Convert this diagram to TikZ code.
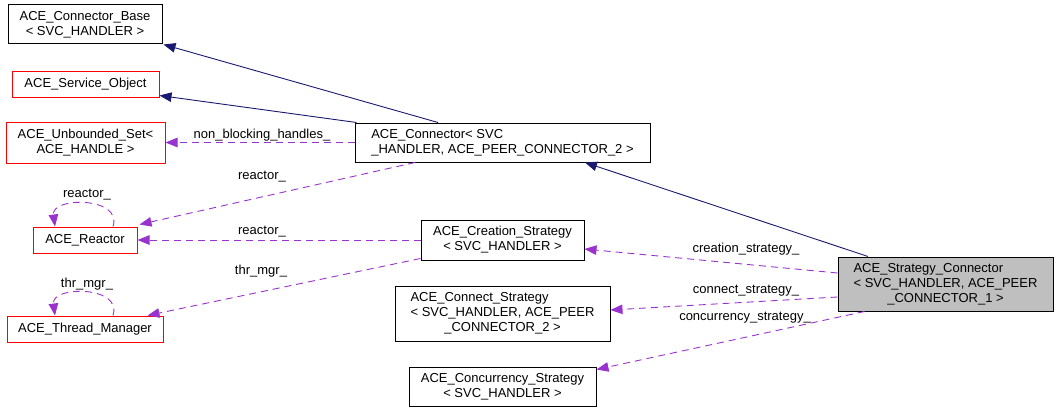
\documentclass[tikz,border=0pt]{standalone}
\usepackage{fontspec}
\setmainfont{Liberation Sans}
\usetikzlibrary{arrows.meta}
\definecolor{edgeblue}{HTML}{191970}
\definecolor{edgepurple}{HTML}{9A32CD}
\definecolor{boxgray}{HTML}{BFBFBF}
\begin{document}
\begin{tikzpicture}[x=1pt,y=-1pt,
  font=\fontsize{13}{15}\selectfont,
  cls/.style={draw=black,line width=1pt,inner sep=0pt,align=center,fill=white},
  redcls/.style={cls,draw=red},
  maincls/.style={cls,fill=boxgray},
  inherit/.style={draw=edgeblue,line width=0.9pt,-{Triangle[length=12pt,width=9.5pt]}},
  usage/.style={draw=edgepurple,line width=0.9pt,dash pattern=on 7pt off 5pt,-{Triangle[length=12pt,width=9.5pt]}},
  lbl/.style={inner sep=0pt,font=\fontsize{13}{15}\selectfont}]
\useasboundingbox (0,0) rectangle (1059,412);
% nodes
\node[cls,minimum width=154pt,minimum height=39pt] (cbase) at (85,24.5) {ACE\_Connector\_Base\\ < SVC\_HANDLER >};
\node[redcls,minimum width=147pt,minimum height=26pt] (svc) at (85.5,84) {ACE\_Service\_Object};
\node[redcls,minimum width=159pt,minimum height=41pt] (uset) at (85.5,142.5) {ACE\_Unbounded\_Set<\\ ACE\_HANDLE >};
\node[cls,minimum width=295pt,minimum height=39pt,align=left] (conn) at (502.5,142.5) {ACE\_Connector< SVC\\ \_HANDLER, ACE\_PEER\_CONNECTOR\_2 >};
\node[redcls,minimum width=104pt,minimum height=26pt] (reac) at (85,240) {ACE\_Reactor};
\node[redcls,minimum width=156pt,minimum height=26pt] (thr) at (85,329) {ACE\_Thread\_Manager};
\node[cls,minimum width=163pt,minimum height=40pt] (creat) at (502.5,240) {ACE\_Creation\_Strategy\\ < SVC\_HANDLER >};
\node[cls,minimum width=215pt,minimum height=55pt] (cstrat) at (502.5,313.5) {\begin{tabular}{@{}l@{}}ACE\_Connect\_Strategy\\ < SVC\_HANDLER, ACE\_PEER\\ \multicolumn{1}{@{}c@{}}{\_CONNECTOR\_2 >}\end{tabular}};
\node[cls,minimum width=187pt,minimum height=39pt] (conc) at (502.5,386.5) {ACE\_Concurrency\_Strategy\\ < SVC\_HANDLER >};
\node[maincls,minimum width=215pt,minimum height=54pt] (strat) at (945.5,284) {\begin{tabular}{@{}l@{}}ACE\_Strategy\_Connector\\ < SVC\_HANDLER, ACE\_PEER\\ \multicolumn{1}{@{}c@{}}{\_CONNECTOR\_1 >}\end{tabular}};
% inheritance
\draw[inherit] ([xshift=-64.5pt]conn.north) -- ([xshift=1pt]cbase.south east);
\draw[inherit] ([xshift=2pt]conn.north west) -- ([yshift=2pt]svc.south east);
\draw[inherit] ([xshift=-77.5pt]strat.north) -- ([xshift=82.5pt]conn.south);
% usage
\draw[usage] (conn.west) -- (uset.east);
\node[lbl] (l1) at (262,135) {non\_blocking\_handles\_};
\draw[usage] ([xshift=-87.5pt]conn.south) -- ([xshift=2pt,yshift=2pt]reac.north east);
\node[lbl] (l2) at (262,177) {reactor\_};
\draw[usage] ([xshift=28pt]reac.north) .. controls +(10,-30) and +(-4,-30) .. ([xshift=-30pt]reac.north);
\node[lbl] (l3) at (87,195) {reactor\_};
\draw[usage] (creat.west) -- (reac.east);
\node[lbl] (l4) at (262,232) {reactor\_};
\draw[usage] ([yshift=2pt]creat.south west) -- ([xshift=-16pt]thr.north east);
\node[lbl] (l5) at (261,271) {thr\_mgr\_};
\draw[usage] ([xshift=28pt]thr.north) .. controls +(10,-30) and +(-4,-30) .. ([xshift=-30pt]thr.north);
\node[lbl] (l6) at (87,284) {thr\_mgr\_};
\draw[usage] ([yshift=11pt]strat.west) -- ([yshift=-9pt]creat.east);
\node[lbl] (l7) at (746,249) {creation\_strategy\_};
\draw[usage] ([yshift=-13pt]strat.west) -- ([yshift=3.5pt]cstrat.east);
\node[lbl] (l8) at (746,291) {connect\_strategy\_};
\draw[usage] ([xshift=27pt]strat.south west) -- ([yshift=-3pt]conc.north east);
\node[lbl] (l9) at (745,318) {concurrency\_strategy\_};
\end{tikzpicture}
\end{document}
